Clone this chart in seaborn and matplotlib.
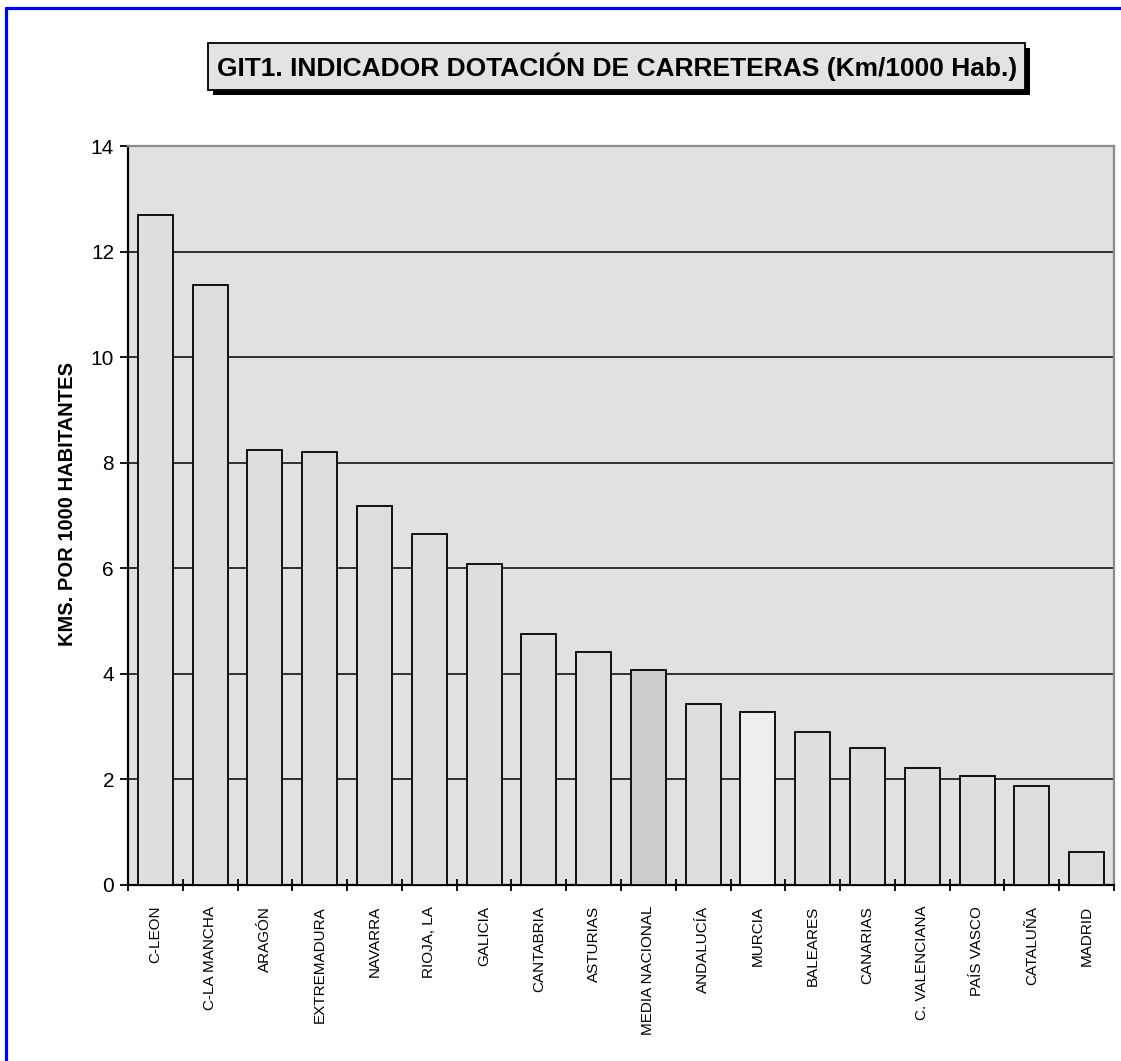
import numpy as np
import pandas as pd
import matplotlib
matplotlib.use("Agg")
import matplotlib.pyplot as plt
from matplotlib.patches import Rectangle
from matplotlib.lines import Line2D
from matplotlib.ticker import FixedLocator
import seaborn as sns

# Datos (Km por 1000 habitantes)
regiones = ["C-LEON", "C-LA MANCHA", "ARAGÓN", "EXTREMADURA", "NAVARRA", "RIOJA, LA",
            "GALICIA", "CANTABRIA", "ASTURIAS", "MEDIA NACIONAL", "ANDALUCÍA", "MURCIA",
            "BALEARES", "CANARIAS", "C. VALENCIANA", "PAÍS VASCO", "CATALUÑA", "MADRID"]
kms = [12.69, 11.36, 8.24, 8.20, 7.18, 6.65, 6.08, 4.75, 4.42, 4.07, 3.43, 3.28,
       2.90, 2.60, 2.22, 2.07, 1.88, 0.63]
colores = ["#dedede"] * len(regiones)
colores[9] = "#cccccc"   # media nacional
colores[11] = "#eeeeee"  # murcia

df = pd.DataFrame({"region": regiones, "kms": kms})

sns.set_style("white")
plt.rcParams["font.family"] = ["Liberation Sans", "DejaVu Sans"]
plt.rcParams["text.color"] = "black"
plt.rcParams["axes.labelcolor"] = "black"
plt.rcParams["xtick.color"] = "black"
plt.rcParams["ytick.color"] = "black"

W, H = 1121, 1061
fig = plt.figure(figsize=(W / 100, H / 100), dpi=100)

def px(x0, y0, x1, y1):
    # caja en pixeles (origen arriba-izquierda) -> coords de figura
    return (x0 / W, 1 - y1 / H, (x1 - x0) / W, (y1 - y0) / H)

ax = fig.add_axes(px(128, 146, 1114, 885))
ax.set_facecolor("#e1e1e1")

sns.barplot(data=df, x="region", y="kms", hue="region", palette=colores, legend=False,
            width=0.64, edgecolor="black", linewidth=1.3, saturation=1, ax=ax, zorder=3)

ax.set_xlim(-0.5, len(regiones) - 0.5)
ax.set_ylim(0, 14)
ax.set_yticks(np.arange(0, 15, 2))
ax.yaxis.grid(True, color="black", linewidth=1.1, zorder=0)
ax.xaxis.grid(False)
ax.set_axisbelow(True)

# etiquetas centradas, marcas en los limites de categoria
ax.set_xticks(range(len(regiones)))
ax.set_xticklabels(regiones, rotation=90, fontsize=11)
ax.xaxis.set_minor_locator(FixedLocator(np.arange(-0.5, len(regiones), 1)))
ax.tick_params(axis="x", which="major", length=0, pad=15)
ax.tick_params(axis="x", which="minor", length=8, width=1.3, direction="inout", color="black", bottom=True)
ax.tick_params(axis="y", which="major", length=6, width=1.3, direction="out", color="black",
               labelsize=15, left=True, pad=4)

for s in ["left", "bottom"]:
    ax.spines[s].set_color("black")
    ax.spines[s].set_linewidth(1.6)
for s in ["top", "right"]:
    ax.spines[s].set_color("#8c8c8c")
    ax.spines[s].set_linewidth(1.6)

ax.set_xlabel("")
ax.set_ylabel("KMS. POR 1000 HABITANTES", fontsize=14.5, fontweight="bold", labelpad=8)
ax.yaxis.set_label_coords(-0.052, 0.516)

# caja del titulo con sombra
fig.patches.append(Rectangle(px(213, 48, 1030, 95)[:2], *px(213, 48, 1030, 95)[2:],
                             transform=fig.transFigure, facecolor="black", edgecolor="none", zorder=1))
fig.patches.append(Rectangle(px(208, 43, 1025, 90)[:2], *px(208, 43, 1025, 90)[2:],
                             transform=fig.transFigure, facecolor="#e3e3e3", edgecolor="black",
                             linewidth=1.3, zorder=2))
fig.text(617 / W, 1 - 67 / H, "GIT1. INDICADOR DOTACIÓN DE CARRETERAS (Km/1000 Hab.)",
         ha="center", va="center", fontsize=19, fontweight="bold", zorder=3)

# borde azul (arriba e izquierda)
fig.lines.append(Line2D([5.5 / W, 1], [1 - 8 / H, 1 - 8 / H], transform=fig.transFigure,
                        color="#0000ff", linewidth=2.3))
fig.lines.append(Line2D([5.5 / W, 5.5 / W], [0, 1 - 8 / H], transform=fig.transFigure,
                        color="#0000ff", linewidth=2.3))

fig.savefig("out.png", dpi=100)
